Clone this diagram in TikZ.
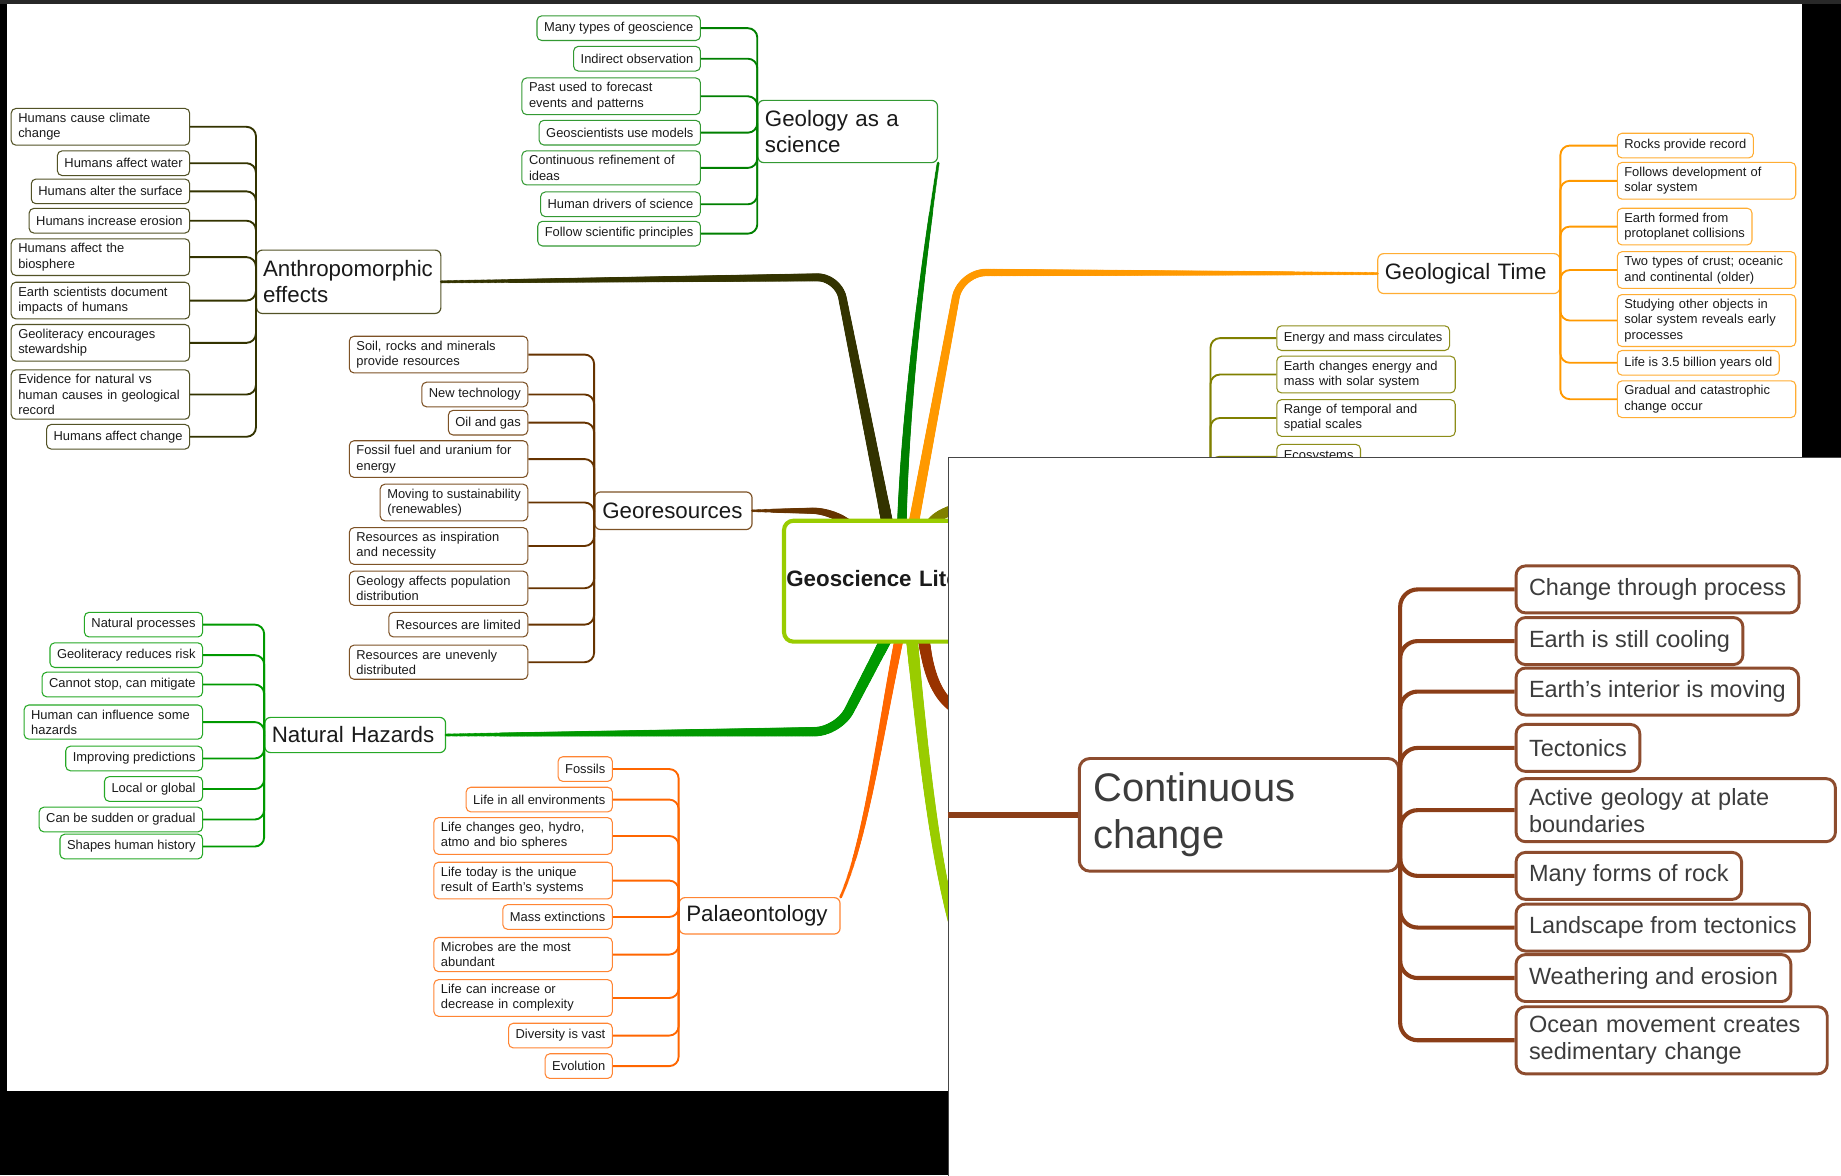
\documentclass[tikz,border=0pt]{standalone}
\usepackage{fontspec}
\setmainfont{Liberation Sans}
\usepackage{xcolor}
\usepackage{tikz}
\usetikzlibrary{shapes,decorations.markings}

\definecolor{sciencecol}{RGB}{0,128,0}
\definecolor{humancol}{RGB}{51,51,0}
\definecolor{rescol}{RGB}{102,51,0}
\definecolor{hazcol}{RGB}{0,153,0}
\definecolor{palcol}{RGB}{255,102,0}
\definecolor{timecol}{RGB}{255,153,0}
\definecolor{syscol}{RGB}{128,128,0}
\definecolor{lifecol}{RGB}{153,204,0}
\definecolor{chgcol}{RGB}{153,51,0}
\definecolor{zoomline}{RGB}{139,62,24}
\definecolor{zoomdraw}{RGB}{141,76,46}
\definecolor{inkcol}{RGB}{26,26,26}
\definecolor{topbar}{RGB}{40,40,40}

\begin{document}
\begin{tikzpicture}[
    x=1pt, y=-1pt,
    leaf/.style={rectangle, rounded corners=4pt, draw=#1, line width=0.9pt, fill=white,
        text=inkcol, font=\fontsize{11}{13}\selectfont, align=left,
        inner xsep=6pt, inner ysep=4pt, minimum height=21pt},
    wrap/.style={text width=140pt},
    topic/.style={rectangle, rounded corners=5pt, draw=#1, line width=1pt, fill=white,
        text=inkcol, font=\fontsize{19}{22}\selectfont, align=left,
        inner xsep=6pt, inner ysep=4pt, anchor=west},
    core/.style={rectangle, rounded corners=8pt, draw=lifecol, line width=3.5pt, fill=white,
        text=inkcol, font=\fontsize{19}{22}\selectfont\bfseries, align=left,
        text width=256pt, inner xsep=2pt, minimum height=103pt, anchor=west},
    twig/.style={draw=#1, line width=1.6pt, rounded corners=8pt},
    taper/.style n args={3}{
        decoration={markings,
            mark=between positions 0 and 1 step 1pt with {
                \pgfmathsetmacro{\halfw}{#2+(#3-#2)*\pgfkeysvalueof{/pgf/decoration/mark info/distance from start}/\pgfdecoratedpathlength}
                \fill[#1] (0,0) circle (\halfw pt);
            }},
        postaction={decorate}},
    zoompanel/.style={rectangle, draw=gray!55!black, line width=1.5pt, fill=white,
        minimum width=800pt, minimum height=650pt, inner sep=0pt, anchor=north west},
    zoomtopic/.style={rectangle, rounded corners=9pt, draw=zoomdraw, line width=2.5pt, fill=white,
        text=inkcol!85, font=\fontsize{34}{40}\selectfont, align=left,
        text width=248pt, inner xsep=12pt, minimum height=96pt, anchor=west},
    zoomleaf/.style={rectangle, rounded corners=8pt, draw=zoomdraw, line width=2.5pt, fill=white,
        text=inkcol!85, font=\fontsize{20}{23}\selectfont, align=left,
        inner xsep=11pt, inner ysep=8pt, minimum height=40pt, anchor=west},
    zoomtwig/.style={draw=zoomline, line width=3.5pt, rounded corners=15pt}
]
\useasboundingbox (0,0) rectangle (1568,1001);

% Screen and mind map page
\fill[black] (0,0) rectangle (1568,1001);
\fill[topbar] (0,0) rectangle (1568,3);
\fill[white] (6,3) rectangle (1535,929);

% Main topics
\node[topic=sciencecol!80!white, text width=141pt, minimum height=53pt] (science) at (645,112) {Geology as a\\science};
\node[topic=humancol!85!white, text width=146pt, inner xsep=5.5pt, minimum height=54pt] (humans) at (218,240) {Anthropomorphic\\effects};
\node[topic=rescol!85!white, text width=121pt, inner xsep=6.5pt, minimum height=32pt] (resources) at (506,435) {Georesources};
\node[topic=hazcol!85!white, text width=142pt, minimum height=30pt] (hazards) at (225,626) {Natural Hazards};
\node[topic=palcol!80!white, text width=125pt, minimum height=31pt] (palaeo) at (578,780) {Palaeontology};
\node[topic=timecol!80!white, text width=143pt, minimum height=34pt] (time) at (1173,233) {Geological Time};

% Branch ends inside the central topic
\coordinate (humin) at (757,452);
\coordinate (sciin) at (768,452);
\coordinate (timein) at (777,452);
\coordinate (resin) at (732,452);
\coordinate (sysin) at (790,452);
\coordinate (hazin) at (758,538);
\coordinate (palin) at (767,538);
\coordinate (lifein) at (776,538);
\coordinate (chgin) at (786,538);
% Topics hidden under the zoomed view
\coordinate (earthsys) at (1031,440);
\coordinate (lifeend) at (818,810);
\coordinate (chgend) at (845,615);

% Main branches
\path[rounded corners=18pt, taper={humancol}{1.3}{5}] (humans.east) -- (714,236) -- (humin);
\path[taper={sciencecol}{1.3}{4.2}] (science.south east) .. controls (784,240) and (770,360) .. (sciin);
\path[rounded corners=22pt, taper={timecol}{1.3}{4.5}] (time.west) -- (818,232) -- (timein);
\path[rounded corners=14pt, taper={rescol}{1.2}{4}] (resources.east) -- (706,435) -- (resin);
\path[taper={syscol}{4.5}{3}] (sysin) .. controls (798,425) and (860,420) .. (earthsys);
\path[rounded corners=20pt, taper={hazcol}{1.3}{5}] (hazards.east) -- (714,623) -- (hazin);
\path[taper={palcol}{1.3}{4}] (palaeo.north east) .. controls (738,715) and (750,620) .. (palin);
\path[taper={lifecol}{5}{3.5}] (lifein) .. controls (788,660) and (798,745) .. (lifeend);
\path[taper={chgcol}{5}{4}] (chgin) .. controls (792,590) and (805,608) .. (chgend);

% Central topic
\node[core] (centre) at (666,495) {Geoscience Literacy};

% Geology as a science
\begin{scope}[nodes={leaf=sciencecol!80!white, anchor=east}]
\node (sci1) at (597,24) {Many types of geoscience};
\node (sci2) at (597,50) {Indirect observation};
\node[wrap] (sci3) at (597,82) {Past used to forecast\\events and patterns};
\node (sci4) at (597,113) {Geoscientists use models};
\node[wrap] (sci5) at (597,143) {Continuous refinement of\\ideas};
\node (sci6) at (597,174) {Human drivers of science};
\node (sci7) at (597,199) {Follow scientific principles};
\end{scope}
\foreach \i in {1,...,7}
    \draw[twig=sciencecol] (sci\i.east) -| (science.west);

% Anthropomorphic effects
\begin{scope}[nodes={leaf=humancol!85!white, anchor=east}]
\node[wrap] (hum1) at (162,108) {Humans cause climate\\change};
\node (hum2) at (162,139) {Humans affect water};
\node (hum3) at (162,163) {Humans alter the surface};
\node (hum4) at (162,188) {Humans increase erosion};
\node[wrap] (hum5) at (162,219) {Humans affect the\\biosphere};
\node[wrap] (hum6) at (162,256) {Earth scientists document\\impacts of humans};
\node[wrap] (hum7) at (162,292) {Geoliteracy encourages\\stewardship};
\node[wrap] (hum8) at (162,336) {Evidence for natural vs\\human causes in geological\\record};
\node (hum9) at (162,372) {Humans affect change};
\end{scope}
\foreach \i in {1,...,9}
    \draw[twig=humancol] (hum\i.east) -| (humans.west);

% Georesources
\begin{scope}[nodes={leaf=rescol!85!white, anchor=east}]
\node[wrap] (res1) at (450,302) {Soil, rocks and minerals\\provide resources};
\node (res2) at (450,336) {New technology};
\node (res3) at (450,360) {Oil and gas};
\node[wrap] (res4) at (450,391) {Fossil fuel and uranium for\\energy};
\node (res5) at (450,428) {Moving to sustainability\\(renewables)};
\node[wrap] (res6) at (450,465) {Resources as inspiration\\and necessity};
\node[wrap] (res7) at (450,501) {Geology affects population\\distribution};
\node (res8) at (450,532) {Resources are limited};
\node[wrap] (res9) at (450,564) {Resources are unevenly\\distributed};
\end{scope}
\foreach \i in {1,...,9}
    \draw[twig=rescol] (res\i.east) -| (resources.west);

% Natural hazards
\begin{scope}[nodes={leaf=hazcol!85!white, anchor=east}]
\node (haz1) at (173,532) {Natural processes};
\node (haz2) at (173,558) {Geoliteracy reduces risk};
\node (haz3) at (173,583) {Cannot stop, can mitigate};
\node[wrap] (haz4) at (173,615) {Human can influence some\\hazards};
\node (haz5) at (173,646) {Improving predictions};
\node (haz6) at (173,672) {Local or global};
\node (haz7) at (173,698) {Can be sudden or gradual};
\node (haz8) at (173,721) {Shapes human history};
\end{scope}
\foreach \i in {1,...,8}
    \draw[twig=hazcol] (haz\i.east) -| (hazards.west);

% Palaeontology
\begin{scope}[nodes={leaf=palcol!80!white, anchor=east}]
\node (pal1) at (522,655) {Fossils};
\node (pal2) at (522,681) {Life in all environments};
\node[wrap] (pal3) at (522,712) {Life changes geo, hydro,\\atmo and bio spheres};
\node[wrap] (pal4) at (522,750) {Life today is the unique\\result of Earth's systems};
\node (pal5) at (522,781) {Mass extinctions};
\node[wrap] (pal6) at (522,813) {Microbes are the most\\abundant};
\node[wrap] (pal7) at (522,850) {Life can increase or\\decrease in complexity};
\node (pal8) at (522,882) {Diversity is vast};
\node (pal9) at (522,908) {Evolution};
\end{scope}
\foreach \i in {1,...,9}
    \draw[twig=palcol] (pal\i.east) -| (palaeo.west);

% Geological time
\begin{scope}[nodes={leaf=timecol!80!white, anchor=west}]
\node (time1) at (1377,124) {Rocks provide record};
\node[wrap] (time2) at (1377,154) {Follows development of\\solar system};
\node (time3) at (1377,193) {Earth formed from\\protoplanet collisions};
\node[wrap] (time4) at (1377,230) {Two types of crust; oceanic\\and continental (older)};
\node[wrap] (time5) at (1377,273) {Studying other objects in\\solar system reveals early\\processes};
\node (time6) at (1377,309) {Life is 3.5 billion years old};
\node[wrap] (time7) at (1377,340) {Gradual and catastrophic\\change occur};
\end{scope}
\foreach \i in {1,...,7}
    \draw[twig=timecol] (time\i.west) -| (time.east);

% Earth systems (topic hidden)
\begin{scope}[nodes={leaf=syscol!90!white, anchor=west}]
\node (sys1) at (1087,288) {Energy and mass circulates};
\node[wrap] (sys2) at (1087,319) {Earth changes energy and\\mass with solar system};
\node[wrap] (sys3) at (1087,356) {Range of temporal and\\spatial scales};
\node (sys4) at (1087,389) {Ecosystems};
\end{scope}
\foreach \i in {1,...,4}
    \draw[twig=syscol] (sys\i.west) -| (earthsys);

% Zoomed view: continuous change
\node[zoompanel] (zoom) at (807,389) {};
\node[zoomtopic] (change) at (918,694) {Continuous\\change};
\draw[zoomline, line width=5pt] (zoom.west |- change.west) -- (change.west);
\begin{scope}[nodes={zoomleaf}]
\node (chg1) at (1290,502) {Change through process};
\node (chg2) at (1290,546) {Earth is still cooling};
\node (chg3) at (1290,589) {Earth's interior is moving};
\node (chg4) at (1290,637) {Tectonics};
\node[text width=250pt] (chg5) at (1290,690) {Active geology at plate\\boundaries};
\node (chg6) at (1290,746) {Many forms of rock};
\node (chg7) at (1290,790) {Landscape from tectonics};
\node (chg8) at (1290,833) {Weathering and erosion};
\node[text width=243pt] (chg9) at (1290,886) {Ocean movement creates\\sedimentary change};
\end{scope}
\foreach \i in {1,...,9}
    \draw[zoomtwig] (chg\i.west) -| (change.east);

\end{tikzpicture}
\end{document}
